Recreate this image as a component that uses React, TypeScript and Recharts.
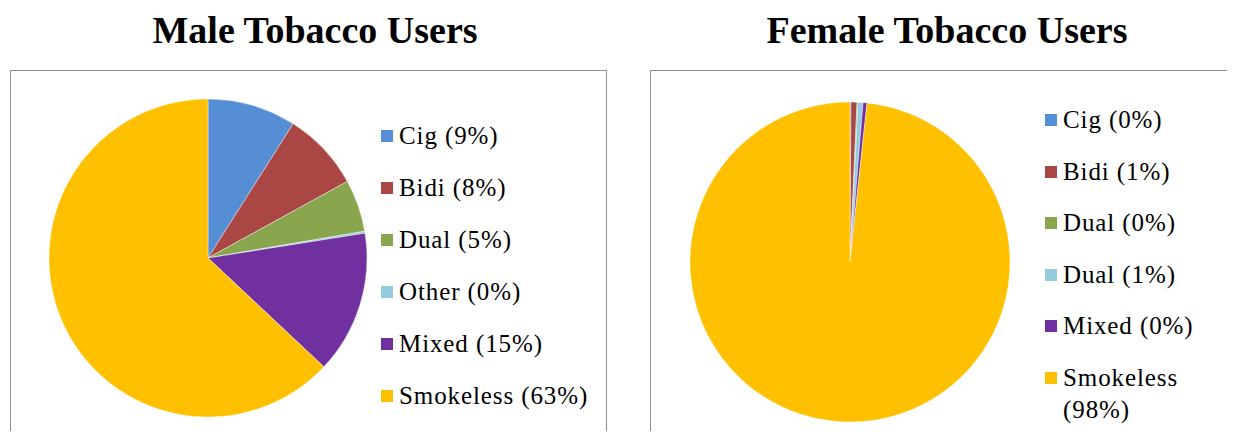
import { PieChart, Pie, Cell } from 'recharts';

const COLORS = ['#558ed5', '#aa4643', '#89a54e', '#93cddd', '#7030a0', '#ffc000'];

const maleLabels = ['Cig (9%)', 'Bidi (8%)', 'Dual (5%)', 'Other (0%)', 'Mixed (15%)', 'Smokeless (63%)'];
const maleValues = [9, 8, 5.3, 0.2, 14.5, 63];

const femaleLabels = ['Cig (0%)', 'Bidi (1%)', 'Dual (0%)', 'Dual (1%)', 'Mixed (0%)', 'Smokeless (98%)'];
const femaleValues = [0.1, 0.6, 0.1, 0.5, 0.4, 98.3];

const serif = '"Liberation Serif", "Times New Roman", Times, serif';

type PanelProps = {
  title: string;
  titleX: number;
  left: number;
  width: number;
  labels: string[];
  values: number[];
  cx: number;
  cy: number;
  r: number;
  legendLeft: number;
  legendTop: number;
  textWidth: number;
  pitch: number;
};

const Panel = (p: PanelProps) => {
  const data = p.labels.map((name, i) => ({ name, value: p.values[i] }));
  return (
    <>
      <div
        style={{
          position: 'absolute',
          left: p.titleX - 250,
          top: 8,
          width: 500,
          textAlign: 'center',
          fontFamily: serif,
          fontWeight: 'bold',
          fontSize: 38,
          lineHeight: '44px',
        }}
      >
        {p.title}
      </div>
      <div
        style={{
          position: 'absolute',
          left: p.left,
          top: 70,
          width: p.width,
          height: 390,
          border: '1.5px solid #8f8f8f',
          boxSizing: 'border-box',
        }}
      >
        <PieChart width={p.width - 3} height={387} margin={{ top: 0, right: 0, bottom: 0, left: 0 }}>
          <Pie
            data={data}
            dataKey="value"
            nameKey="name"
            cx={p.cx}
            cy={p.cy}
            outerRadius={p.r}
            startAngle={90}
            endAngle={-270}
            stroke="#ffffff"
            strokeWidth={0.4}
            isAnimationActive={false}
          >
            {data.map((_, i) => (
              <Cell key={i} fill={COLORS[i]} />
            ))}
          </Pie>
        </PieChart>
        <div
          style={{
            position: 'absolute',
            left: p.legendLeft,
            top: p.legendTop,
            fontFamily: serif,
            fontSize: 25,
            letterSpacing: 0.9,
            color: '#000',
            lineHeight: '32px',
          }}
        >
          {p.labels.map((label, i) => (
            <div key={i} style={{ display: 'flex', alignItems: 'flex-start', marginBottom: p.pitch - 32 }}>
              <span style={{ width: 12, height: 12, background: COLORS[i], marginTop: 10, marginRight: 6, flexShrink: 0 }} />
              <span style={{ width: p.textWidth }}>{label}</span>
            </div>
          ))}
        </div>
      </div>
    </>
  );
};

export default function App() {
  return (
    <div
      style={{
        position: 'relative',
        width: 1235,
        height: 439,
        margin: -8,
        overflow: 'hidden',
        background: '#fff',
      }}
    >
      <Panel
        title="Male Tobacco Users"
        titleX={315}
        left={10}
        width={597}
        labels={maleLabels}
        values={maleValues}
        cx={197}
        cy={187}
        r={159}
        legendLeft={370}
        legendTop={49}
        textWidth={210}
        pitch={52}
      />
      <Panel
        title="Female Tobacco Users"
        titleX={947}
        left={650}
        width={600}
        labels={femaleLabels}
        values={femaleValues}
        cx={199}
        cy={191}
        r={160}
        legendLeft={394}
        legendTop={33}
        textWidth={168}
        pitch={51.6}
      />
    </div>
  );
}
